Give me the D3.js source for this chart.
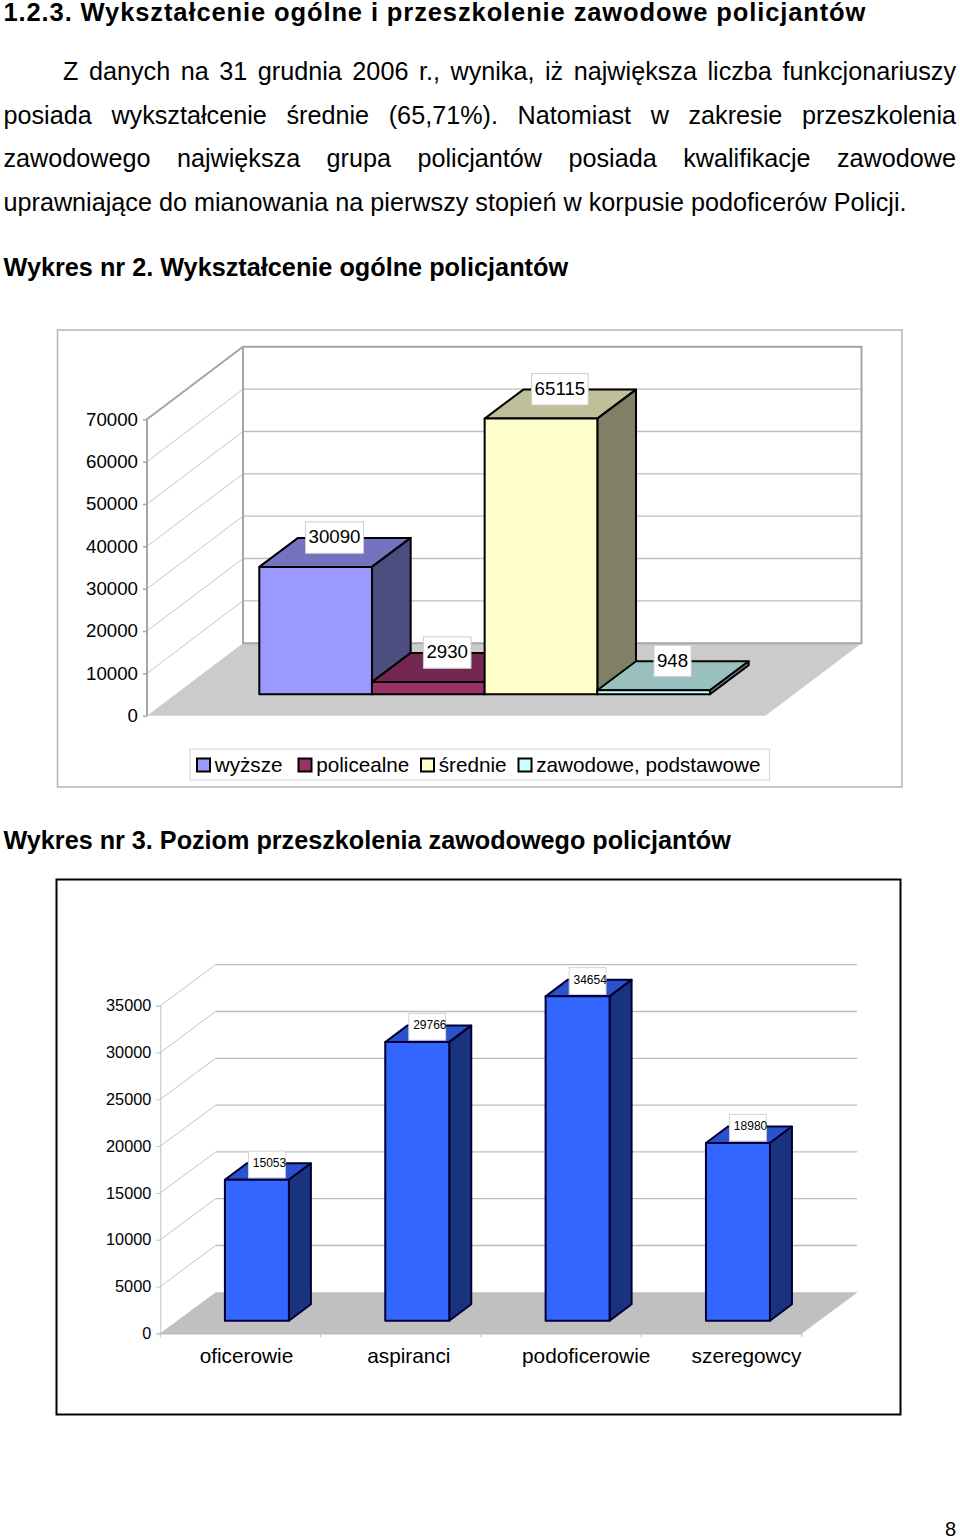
<!DOCTYPE html>
<html lang="pl"><head><meta charset="utf-8">
<script src="https://cdn.jsdelivr.net/npm/d3@7"></script>
<style>
html,body{margin:0;padding:0;background:#fff}
svg{display:block}
text{font-family:"Liberation Sans",Arial,sans-serif;fill:#000}
</style></head><body><div id="page"></div>
<script>
// ---- text
const headingText = "1.2.3. Wykształcenie ogólne i przeszkolenie zawodowe policjantów";
const bodyLines = [
  "Z danych na 31 grudnia 2006 r., wynika, iż największa liczba funkcjonariuszy",
  "posiada wykształcenie średnie (65,71%). Natomiast w zakresie przeszkolenia",
  "zawodowego największa grupa policjantów posiada kwalifikacje zawodowe",
  "uprawniające do mianowania na pierwszy stopień w korpusie podoficerów Policji."
];
const caption2 = "Wykres nr 2. Wykształcenie ogólne policjantów";
const caption3 = "Wykres nr 3. Poziom przeszkolenia zawodowego policjantów";
const pageNumber = "8";

// ---- chart 2 data
const eduSeries = ["wyższe","policealne","średnie","zawodowe, podstawowe"];
const eduValues = [30090,2930,65115,948];
const eduTicks = [0,10000,20000,30000,40000,50000,60000,70000];
const eduFront = ["#9999ff","#993366","#ffffcc","#ccffff"];
const eduTop = ["#7373bf","#732650","#bfbf99","#99bfbf"];
const eduSide = ["#4d4d80","#4d1a33","#808066","#668080"];
const eduLegendX = [197,298.5,421,518.5];

// ---- chart 3 data
const rankCategories = ["oficerowie","aspiranci","podoficerowie","szeregowcy"];
const rankValues = [15053,29766,34654,18980];
const rankTicks = [0,5000,10000,15000,20000,25000,30000,35000];
const rankLabelShift = [6,8,25,25];

const svg = d3.select("#page").append("svg").attr("width",960).attr("height",1537).attr("viewBox","0 0 960 1537");
svg.append("rect").attr("width",960).attr("height",1537).attr("fill","#fff");

// ---- page text
const PW = 952.5, PX = 3.5;
function line(txt,x,y,size,bold,right){
  const t = svg.append("text").attr("x",x).attr("y",y).attr("font-size",size).attr("font-weight",bold?700:400).text(txt);
  if(right!=null){
    const gaps = txt.split(" ").length-1;
    const len = t.node().getComputedTextLength();
    t.style("word-spacing",((right-x-len)/gaps)+"px");
  }
  return t;
}
line(headingText,PX,21,25.5,true).style("letter-spacing","0.89px");
line(bodyLines[0],63,80,25.2,false,PX+PW);
line(bodyLines[1],PX,124,25.2,false,PX+PW);
line(bodyLines[2],PX,167,25.2,false,PX+PW);
line(bodyLines[3],PX,210.5,25.2,false);
line(caption2,PX,275.5,25.25,true);
line(caption3,PX,848.5,25.2,true);
line(pageNumber,945,1535.5,20,false);

const poly = pts => "M"+pts.map(p=>p.join(",")).join("L")+"Z";

// ---- generic 3D frame
function wall(g,o){
  const {x0,x1,xBack,y,dy,ticks,floorFill,gridColor,diagColor} = o;
  const dx = xBack-x0, base = y(0);
  g.append("path").attr("d",poly([[x0,base],[x1,base],[x1+dx,base+dy],[xBack,base+dy]])).attr("fill",floorFill);
  const grid = ticks.filter(t=>t>0);
  g.selectAll(".diag").data(grid).join("line").attr("x1",x0).attr("x2",xBack)
    .attr("y1",d=>y(d)).attr("y2",d=>y(d)+dy).attr("stroke",diagColor).attr("stroke-width",1);
  g.selectAll(".back").data(grid).join("line").attr("x1",xBack).attr("x2",x1+dx)
    .attr("y1",d=>y(d)+dy).attr("y2",d=>y(d)+dy).attr("stroke",gridColor).attr("stroke-width",1.3);
}
function bar3d(g,x,w,yTop,yBot,dx,dy,front,top,side,stroke,sw){
  const s = {stroke,"stroke-width":sw,"stroke-linejoin":"round"};
  const add = (d,f)=>{const p=g.append("path").attr("d",d).attr("fill",f);for(const k in s)p.attr(k,s[k]);};
  add(poly([[x,yTop],[x+w,yTop],[x+w+dx,yTop+dy],[x+dx,yTop+dy]]),top);
  add(poly([[x+w,yTop],[x+w+dx,yTop+dy],[x+w+dx,yBot+dy],[x+w,yBot]]),side);
  add(poly([[x,yTop],[x+w,yTop],[x+w,yBot],[x,yBot]]),front);
}

// ---- chart 2: education
(function(){
  const g = svg.append("g");
  g.append("rect").attr("x",57.5).attr("y",330).attr("width",844.5).attr("height",457)
    .attr("fill","#fff").attr("stroke","#b4b4b4").attr("stroke-width",1.5);
  const y = d3.scaleLinear().domain([0,70000]).range([715.7,419.3]);
  const x0=147, x1=765.5, xBack=243, dy=-72.5;
  wall(g,{x0,x1,xBack,y,dy,ticks:eduTicks,floorFill:"#cbcbcb",gridColor:"#bebebe",diagColor:"#c6c6c6"});
  const top = y(70000)+dy, back = y(0)+dy;
  const edge = "#a6a6a6";
  g.append("path").attr("fill","none").attr("stroke",edge).attr("stroke-width",2)
    .attr("d",`M${x0},${y(0)}L${x0},${y(70000)}L${xBack},${top}L${x1+xBack-x0},${top}L${x1+xBack-x0},${back}L${xBack},${back}L${xBack},${top}`);
  const ax = d3.axisLeft(y).tickValues(eduTicks).tickFormat(d3.format("d")).tickSize(4).tickPadding(5);
  const axG = g.append("g").attr("transform",`translate(${x0},0)`).call(ax);
  axG.select(".domain").remove();
  axG.selectAll("line").attr("stroke",edge).attr("stroke-width",1.5);
  axG.selectAll("text").attr("font-size",18.7).style("font-family",'"Liberation Sans"');

  const bx = d3.scaleBand().domain(eduSeries).range([259.3,710]);
  const yBot = 694.3, dxB=38.7, dyB=-29;
  const h = v => y(0)-y(v);
  eduSeries.forEach((s,i)=>bar3d(g,bx(s),bx.bandwidth(),yBot-h(eduValues[i]),yBot,dxB,dyB,eduFront[i],eduTop[i],eduSide[i],"#000",2));
  eduSeries.forEach((s,i)=>{
    const cx = bx(s)+bx.bandwidth()/2+18.9, cy = yBot-h(eduValues[i])-29.3;
    const box = g.append("rect");
    const t = g.append("text").attr("x",cx).attr("y",cy-1).attr("dy","0.35em").attr("text-anchor","middle").attr("font-size",18.7).text(eduValues[i]);
    const w = t.node().getComputedTextLength()+6;
    box.attr("x",cx-w/2).attr("y",cy-15.7).attr("width",w).attr("height",31.4)
      .attr("fill","#fff").attr("stroke","#cccccc").attr("stroke-width",1);
  });
  // legend
  g.append("rect").attr("x",190).attr("y",749).attr("width",579.5).attr("height",31).attr("fill","#fff").attr("stroke","#d4d4d4").attr("stroke-width",1);
  eduSeries.forEach((s,i)=>{
    g.append("rect").attr("x",eduLegendX[i]).attr("y",758.5).attr("width",13).attr("height",13).attr("fill",eduFront[i]).attr("stroke","#000").attr("stroke-width",2);
    g.append("text").attr("x",eduLegendX[i]+17.7).attr("y",772).attr("font-size",20.7).text(s);
  });
})();

// ---- chart 3: training
(function(){
  const g = svg.append("g");
  g.append("rect").attr("x",56.5).attr("y",879.5).attr("width",844).attr("height",535)
    .attr("fill","#fff").attr("stroke","#000").attr("stroke-width",2);
  const y = d3.scaleLinear().domain([0,35000]).range([1333.3,1005.7]);
  const x0=160.3, x1=801.7, xBack=215.7, dy=-41;
  wall(g,{x0,x1,xBack,y,dy,ticks:rankTicks,floorFill:"#c0c0c0",gridColor:"#bcbcbc",diagColor:"#c4c4c4"});
  const ax = d3.axisLeft(y).tickValues(rankTicks).tickFormat(d3.format("d")).tickSize(4).tickPadding(5);
  const axG = g.append("g").attr("transform",`translate(${x0},0)`).call(ax);
  axG.select(".domain").attr("stroke","#c0c0c0").attr("stroke-width",1);
  axG.selectAll("line").attr("stroke","#c0c0c0").attr("stroke-width",1);
  axG.selectAll("text").attr("font-size",16.3).style("font-family",'"Liberation Sans"');

  const cx = d3.scaleBand().domain(rankCategories).range([x0,x1]);
  const axB = d3.axisBottom(cx).tickSize(0).tickFormat(()=>"");
  const bG = g.append("g").attr("transform",`translate(0,${y(0)})`).call(axB);
  bG.select(".domain").attr("stroke","#a0a0a0").attr("stroke-width",1);
  g.selectAll(".cattick").data([...rankCategories.map(c=>cx(c)),x1]).join("line")
    .attr("x1",d=>d).attr("x2",d=>d).attr("y1",y(0)).attr("y2",y(0)+4).attr("stroke","#c0c0c0");
  g.append("line").attr("x1",x1).attr("y1",y(0)).attr("x2",x1+xBack-x0).attr("y2",y(0)+dy).attr("stroke","#c8c8c8");

  const inset=64.6, w=64, yBot=1320.7, dxB=22, dyB=-16.5;
  const h = v => y(0)-y(v);
  rankCategories.forEach((c,i)=>bar3d(g,cx(c)+inset,w,yBot-h(rankValues[i]),yBot,dxB,dyB,"#3366ff","#2a52cc","#1a337f","#000033",2));
  rankCategories.forEach((c,i)=>{
    const bc = cx(c)+inset+w/2+10, cy = yBot-h(rankValues[i])-15.3;
    g.append("rect").attr("x",bc-18.4).attr("y",cy-13.4).attr("width",36.8).attr("height",26.8)
      .attr("fill","#fff").attr("stroke","#d4d4d4").attr("stroke-width",1);
    g.append("text").attr("x",bc+2.6).attr("y",cy-1.5).attr("dy","0.35em").attr("text-anchor","middle").attr("font-size",12).text(rankValues[i]);
    g.append("text").attr("x",cx(c)+cx.bandwidth()/2+rankLabelShift[i]).attr("y",1362.5).attr("text-anchor","middle").attr("font-size",20.8).text(c);
  });
})();
</script></body></html>
